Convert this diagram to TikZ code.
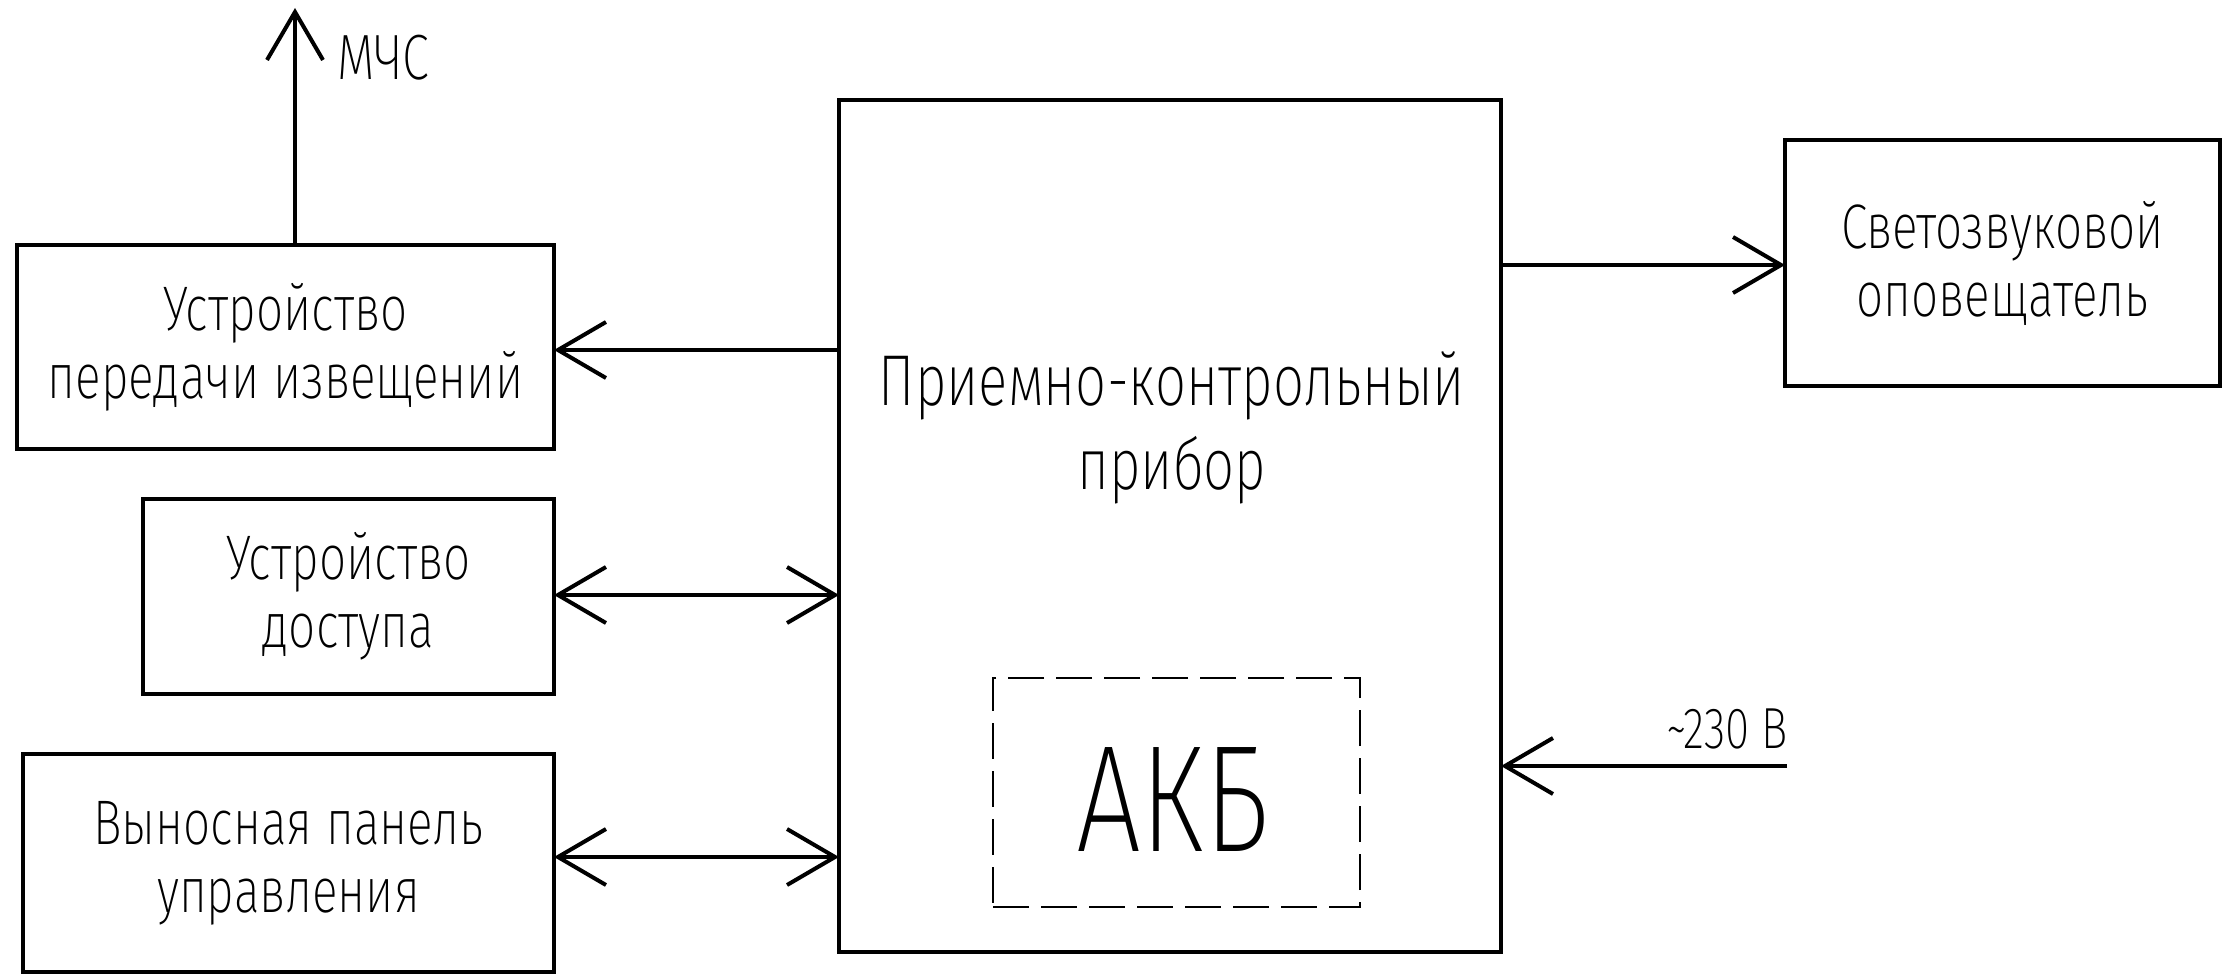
\documentclass[tikz,border=0pt]{standalone}
\usepackage{fontspec}
\setmainfont{Fira Sans ExtraLight}[FakeStretch=0.76]
\usetikzlibrary{arrows.meta}
\begin{document}
\begin{tikzpicture}[x=0.5pt,y=-0.5pt,
  blk/.style={draw, line width=2pt, inner sep=0pt, outer sep=0pt, align=center,
    font=\fontsize{31.5}{34}\selectfont},
  conn/.style={line width=2pt},
  barb/.tip={Straight Barb[length=24pt,width=28pt,line width=2pt]},
  lbl/.style={inner sep=0pt, outer sep=0pt}
]
\useasboundingbox (0,0) rectangle (2231,974);
% blocks
\node[blk, minimum width=268.5pt, minimum height=102pt] (upi) at (285.5,347)
  {Устройство\\передачи извещений};
\node[blk, minimum width=205.5pt, minimum height=97.5pt] (acc) at (348.5,596.5)
  {Устройство\\доступа};
\node[blk, minimum width=265.5pt, minimum height=109pt] (pan) at (288.5,863)
  {Выносная панель\\управления};
\node[blk, minimum width=217.5pt, minimum height=123pt] (sz) at (2002.5,263)
  {Светозвуковой\\оповещатель};
\node[blk, minimum width=331pt, minimum height=426pt] (main) at (1170,526) {};
\node[lbl, align=center, font=\fontsize{36}{42}\selectfont] (mtxt) at (1172,428)
  {Приемно-контрольный\\прибор};
\node[draw, dash pattern=on 18pt off 6pt, line width=0.8pt, inner sep=0pt, outer sep=0pt,
  minimum width=183.5pt, minimum height=114.5pt] (akb) at (1176.5,792.5) {};
\node[lbl, font=\fontsize{76}{80}\selectfont] (akbt) at (1173,800) {АКБ};
% connectors
\coordinate (mchs) at (295,8);
\draw[conn,-barb] (upi.north -| mchs) -- (mchs);
\node[lbl, anchor=base west, font=\fontsize{32}{34}\selectfont] (mchst) at (337,80) {МЧС};
\draw[conn,-barb] (main.west |- 0,350) -- (upi.east |- 0,350);
\draw[conn,barb-barb] (acc.east |- 0,595) -- (main.west |- 0,595);
\draw[conn,barb-barb] (pan.east |- 0,857) -- (main.west |- 0,857);
\draw[conn,-barb] (main.east |- 0,265) -- (sz.west |- 0,265);
\coordinate (pwr) at (1787,766);
\draw[conn,-barb] (pwr) -- (main.east |- pwr);
\node[lbl, anchor=base east, font=\fontsize{29}{30}\selectfont] (pwrt) at (1788,748) {\textasciitilde230 В};
\end{tikzpicture}
\end{document}
